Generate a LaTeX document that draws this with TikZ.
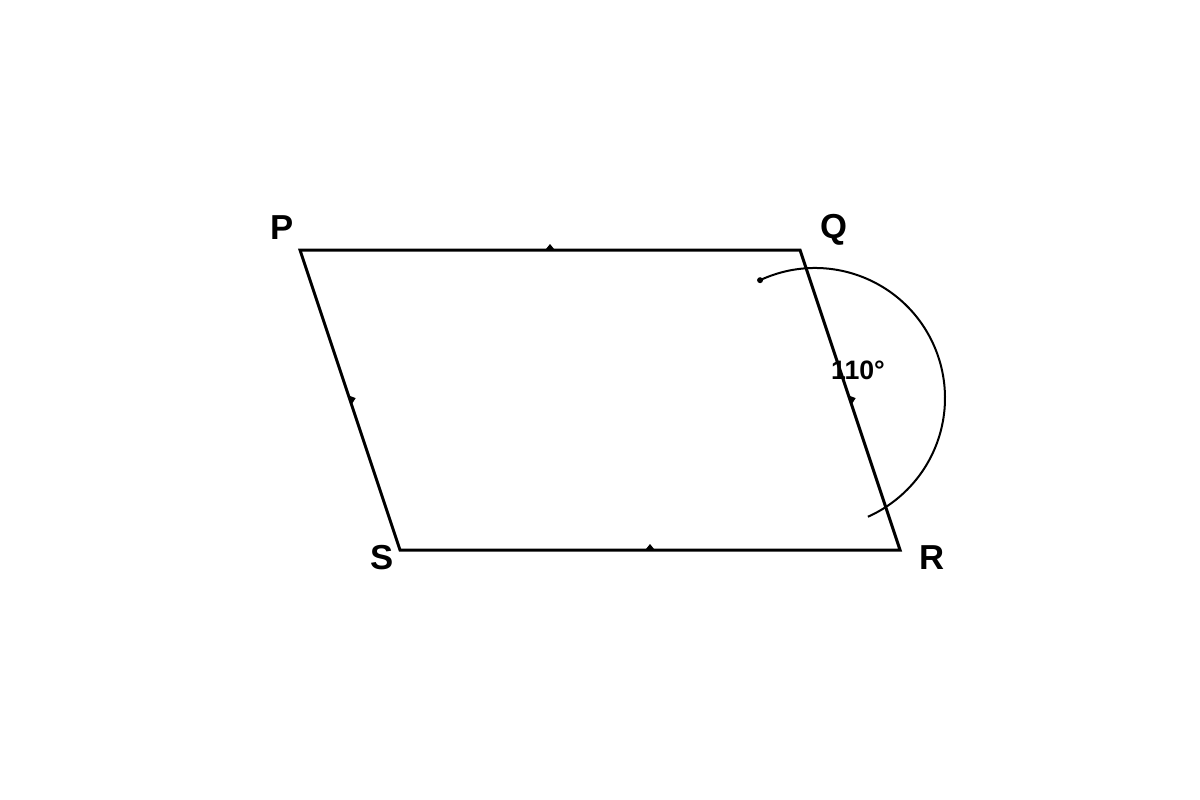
\documentclass[tikz,border=0pt]{standalone}
\usepackage{fontspec}
\setmainfont{Liberation Sans}
\usetikzlibrary{calc}
\tikzset{
  edge/.style={line width=2.25pt, line join=miter},
  anglearc/.style={line width=1.5pt},
  vlabel/.style={font=\bfseries\fontsize{26}{31}\selectfont, inner sep=0pt},
  alabel/.style={font=\bfseries\fontsize{20}{24}\selectfont, inner sep=0pt},
  markfill/.style={fill=black}
}
\newcommand\edgemark[2]{%
  \coordinate (mid) at ($(#1)!0.5!(#2)$);
  \fill[markfill] ($(mid)!3.6pt!(#2)$) -- ($(mid)!4.5pt!90:(#2)$) -- ($(mid)!-3.6pt!(#2)$) -- cycle;
}
\begin{document}
\begin{tikzpicture}[x=0.75pt,y=0.75pt]
\useasboundingbox (0,0) rectangle (1200,-800);
\coordinate (P) at (300,-250);
\coordinate (Q) at (800,-250);
\coordinate (R) at (900,-550);
\coordinate (S) at (400,-550);
\coordinate (C) at (815,-398);
\coordinate (A) at ($(C)+(115:130)$);
\draw[edge] (P) -- (Q) -- (R) -- (S) -- cycle;
\edgemark{P}{Q}
\edgemark{S}{R}
\edgemark{P}{S}
\edgemark{Q}{R}
\draw[anglearc] (A) arc[start angle=115, end angle=-66, radius=130];
\fill (A) circle (3);
\node[vlabel] (lP) at (282,-228) {P};
\node[vlabel] (lQ) at (834,-230) {Q};
\node[vlabel] (lS) at (382,-558) {S};
\node[vlabel] (lR) at (932,-558) {R};
\node[alabel] (ang) at (858,-370) {110°};
\end{tikzpicture}
\end{document}
